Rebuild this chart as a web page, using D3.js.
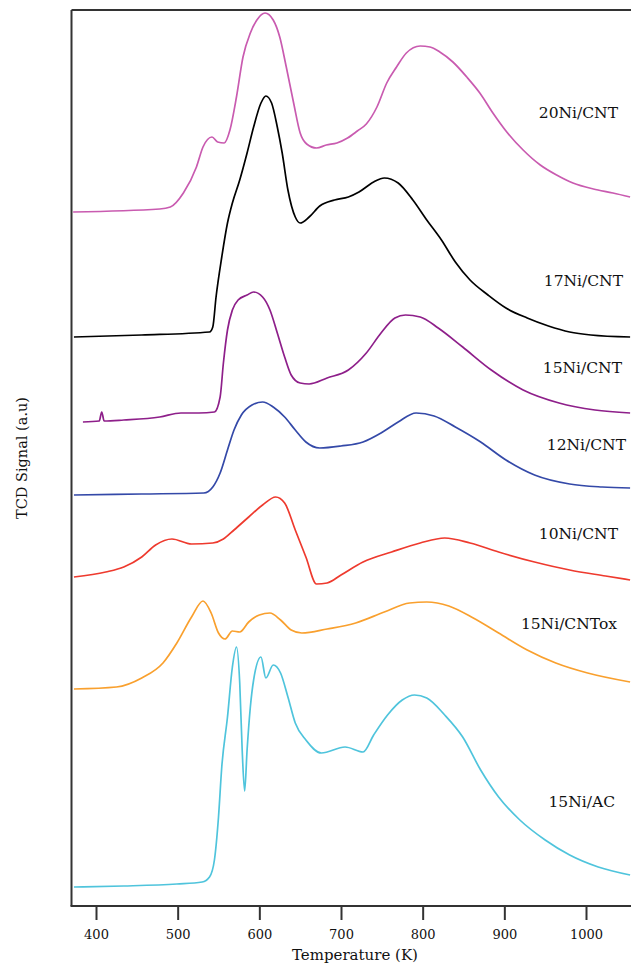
<!DOCTYPE html>
<html>
<head>
<meta charset="utf-8">
<script src="https://cdn.jsdelivr.net/npm/d3@7"></script>
<style>
  html, body { margin: 0; padding: 0; background: #fff; }
  svg { display: block; }
</style>
</head>
<body>
<div id="chart"></div>
<script>
// ---------- data (temperature K, TCD signal a.u. incl. vertical offset) ----------
const xTicks = [400, 500, 600, 700, 800, 900, 1000];

const s20NiCNT = [[372,694],[478,697],[491,699],[507,713],[523,739],[531,759],[542,769],[549,764],[557,763],[564,776],[572,809],[580,849],[589,873],[597,886],[607,893],[617,886],[625,869],[633,839],[642,803],[650,773],[658,762],[670,758],[682,761],[695,763],[708,768],[720,775],[731,782],[744,799],[756,823],[768,839],[780,853],[797,860],[809,859],[821,854],[837,844],[854,829],[870,813],[886,793],[903,774],[923,756],[944,741],[964,731],[984,723],[1009,717],[1033,713],[1054,709]];

const s17NiCNT = [[373,569],[456,571],[539,574],[543,579],[547,609],[554,649],[561,683],[567,703],[576,726],[585,753],[593,779],[602,803],[608,810],[615,803],[622,779],[628,753],[635,716],[644,689],[650,683],[661,689],[674,700],[692,706],[709,709],[722,714],[740,724],[753,728],[770,723],[788,706],[805,686],[823,666],[840,644],[858,626],[880,611],[902,598],[928,588],[954,580],[980,574],[1006,571],[1054,569]];

const s15NiCNT = [[384,484],[404,485],[407,494],[410,485],[434,486],[478,489],[504,493],[526,493],[545,494],[552,509],[556,543],[561,576],[567,596],[574,606],[585,611],[593,614],[604,609],[613,596],[622,573],[631,549],[639,531],[650,523],[661,522],[683,528],[709,536],[731,553],[749,573],[766,588],[779,591],[797,589],[819,578],[849,559],[884,536],[923,516],[967,503],[1011,496],[1054,493]];

const s12NiCNT = [[373,411],[456,412],[532,413],[543,419],[552,433],[561,456],[569,476],[578,491],[591,501],[604,504],[617,499],[631,489],[644,476],[657,464],[674,458],[700,460],[727,464],[749,473],[770,484],[792,493],[814,490],[840,479],[871,464],[902,446],[937,431],[980,422],[1020,419],[1054,418]];

const s10NiCNT = [[373,329],[412,334],[434,339],[456,349],[473,361],[493,367],[517,362],[543,363],[556,367],[569,376],[587,389],[604,401],[620,409],[631,403],[644,376],[657,349],[670,322],[683,323],[700,331],[727,344],[762,354],[797,363],[827,368],[858,363],[893,354],[937,344],[980,336],[1024,330],[1054,326]];

const s15NiCNTox = [[373,217],[425,219],[456,228],[482,243],[499,263],[517,289],[531,305],[541,293],[550,273],[558,267],[567,275],[576,274],[587,284],[600,291],[613,293],[626,286],[639,276],[652,273],[683,277],[718,283],[753,294],[784,303],[805,304],[832,300],[862,288],[893,273],[928,256],[963,243],[1002,233],[1054,224]];

const s15NiAC = [[373,19],[434,20],[499,22],[530,24],[539,29],[545,46],[550,89],[554,139],[561,189],[567,239],[572,259],[576,223],[579,156],[582,115],[585,156],[589,199],[593,226],[602,249],[608,228],[617,241],[626,233],[635,209],[644,183],[657,166],[676,153],[705,159],[727,154],[740,171],[757,191],[775,206],[790,211],[805,208],[827,191],[849,169],[871,136],[893,109],[919,86],[950,66],[980,51],[1015,39],[1054,31]];

const seriesNames = ["20Ni/CNT","17Ni/CNT","15Ni/CNT","12Ni/CNT","10Ni/CNT","15Ni/CNTox","15Ni/AC"];
const seriesData  = [s20NiCNT, s17NiCNT, s15NiCNT, s12NiCNT, s10NiCNT, s15NiCNTox, s15NiAC];

// ---------- styles / layout ----------
const seriesColors = ["#c95bb0","#000000","#8e1f8a","#3449a8","#ee3a2e","#f9a02e","#4fc4dc"];
const labelLayout = [
  {x: 618, y: 118}, {x: 623, y: 286}, {x: 622, y: 373}, {x: 626, y: 450},
  {x: 618, y: 539}, {x: 617, y: 629}, {x: 615, y: 807}
];

const W = 631, H = 965;
const plot = {left: 71.5, right: 631, top: 10, bottom: 906};
const font = "'DejaVu Serif', 'Liberation Serif', serif";

const svg = d3.select("#chart").append("svg")
  .attr("width", W).attr("height", H);

const x = d3.scaleLinear().domain([400, 1000]).range([96, 586]);
const y = d3.scaleLinear().domain([0, 896]).range([plot.bottom, plot.top]);

svg.append("defs").append("clipPath").attr("id", "clip")
  .append("rect").attr("x", plot.left).attr("y", plot.top)
  .attr("width", plot.right - plot.left).attr("height", plot.bottom - plot.top);

const line = d3.line().x(d => x(d[0])).y(d => y(d[1])).curve(d3.curveMonotoneX);

const g = svg.append("g").attr("clip-path", "url(#clip)");
seriesData.forEach((s, i) => {
  g.append("path").datum(s)
    .attr("d", line)
    .attr("fill", "none")
    .attr("stroke", seriesColors[i])
    .attr("stroke-width", 1.7)
    .attr("stroke-linejoin", "round");
});

// series labels
seriesNames.forEach((n, i) => {
  svg.append("text")
    .attr("x", labelLayout[i].x).attr("y", labelLayout[i].y)
    .attr("text-anchor", "end")
    .attr("font-family", font).attr("font-size", 15.5)
    .attr("fill", "#111")
    .text(n);
});

// frame lines
const axisColor = "#333";
svg.append("line").attr("x1", plot.left).attr("x2", plot.right).attr("y1", plot.top).attr("y2", plot.top)
  .attr("stroke", axisColor).attr("stroke-width", 2);
svg.append("line").attr("x1", plot.left).attr("x2", plot.left).attr("y1", plot.top).attr("y2", plot.bottom)
  .attr("stroke", axisColor).attr("stroke-width", 2);

// x axis
const xAxis = d3.axisBottom(x).tickValues(xTicks).tickSize(14).tickPadding(10).tickFormat(d3.format("d"));
const ax = svg.append("g").attr("transform", `translate(0,${plot.bottom})`).call(xAxis);
ax.select(".domain").remove();
ax.selectAll(".tick line").attr("stroke", axisColor).attr("stroke-width", 2);
ax.selectAll(".tick text").attr("font-family", font).attr("font-size", 13).attr("fill", "#111");
svg.append("line").attr("x1", plot.left - 1).attr("x2", plot.right).attr("y1", plot.bottom).attr("y2", plot.bottom)
  .attr("stroke", axisColor).attr("stroke-width", 2);

// axis titles
svg.append("text")
  .attr("x", 355).attr("y", 960)
  .attr("text-anchor", "middle")
  .attr("font-family", font).attr("font-size", 15)
  .attr("fill", "#111")
  .text("Temperature (K)");

svg.append("text")
  .attr("transform", "translate(27,458) rotate(-90)")
  .attr("text-anchor", "middle")
  .attr("font-family", font).attr("font-size", 14.5)
  .attr("fill", "#111")
  .text("TCD Signal (a.u)");
</script>
</body>
</html>
